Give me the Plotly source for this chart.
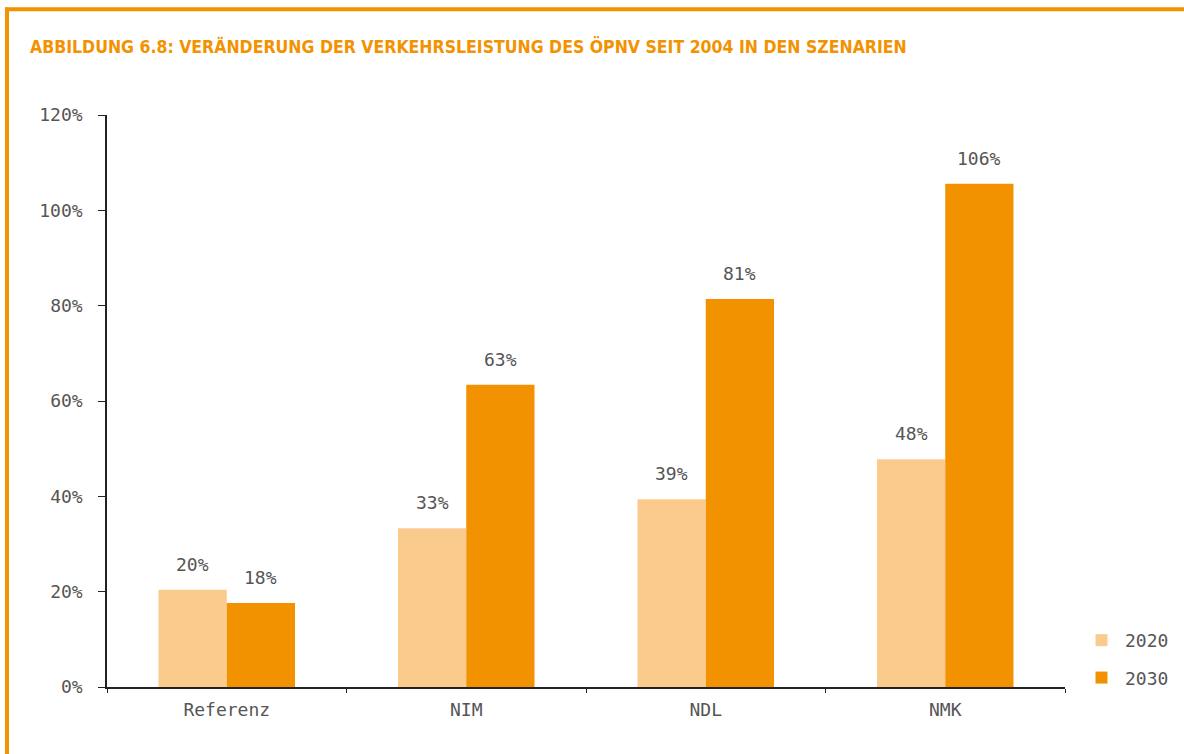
import plotly.graph_objects as go

# Scenario categories and change in public-transport passenger-km since 2004 (%)
szenarien = ["Referenz", "NIM", "NDL", "NMK"]
werte_2020 = [20.4, 33.3, 39.4, 47.8]
werte_2030 = [17.6, 63.4, 81.4, 105.6]
jahre = ["2020", "2030"]
y_ticks = [0, 20, 40, 60, 80, 100, 120]

ORANGE = "#F39200"
HELL = "#FBCB8E"
GRAU = "#555555"
MONO = "DejaVu Sans Mono, Liberation Mono, monospace"

W, H = 1184, 754
L, R, T, B = 107, 119, 115, 67
plot_w = W - L - R
plot_h = H - T - B
bargap = 0.43
bar_px = plot_w / len(szenarien) * (1 - bargap) / 2

fig = go.Figure()
fig.add_trace(go.Bar(name=jahre[0], x=szenarien, y=werte_2020, legendgroup="a",
                     marker=dict(color=HELL, line=dict(width=0))))
fig.add_trace(go.Bar(name=jahre[1], x=szenarien, y=werte_2030, legendgroup="b",
                     marker=dict(color=ORANGE, line=dict(width=0))))

# value labels above each bar
annots = []
for vals, sign in ((werte_2020, -1), (werte_2030, 1)):
    for cat, v in zip(szenarien, vals):
        annots.append(dict(x=cat, y=v, xref="x", yref="y", text=f"{v:.0f}%",
                           showarrow=False, yanchor="bottom", yshift=13,
                           xshift=sign * bar_px / 2,
                           font=dict(family=MONO, size=18, color=GRAU)))

def px_x(p):
    return (p - L) / plot_w

def px_y(p):
    return (H - B - p) / plot_h

annots.append(dict(x=px_x(28), y=px_y(47), xref="paper", yref="paper",
                   xanchor="left", yanchor="middle", showarrow=False,
                   text="<b>ABBILDUNG 6.8: VERÄNDERUNG DER VERKEHRSLEISTUNG DES ÖPNV SEIT 2004 IN DEN SZENARIEN</b>",
                   font=dict(family="DejaVu Sans Condensed, sans-serif",
                             size=17.5, color=ORANGE)))

shapes = [
    dict(type="line", xref="paper", yref="paper", x0=px_x(5), x1=px_x(W + 5),
         y0=px_y(9.3), y1=px_y(9.3), line=dict(color=ORANGE, width=4)),
    dict(type="line", xref="paper", yref="paper", x0=px_x(7), x1=px_x(7),
         y0=px_y(7.5), y1=px_y(H + 5), line=dict(color=ORANGE, width=4)),
]

fig.update_layout(
    width=W, height=H,
    margin=dict(l=L, r=R, t=T, b=B, autoexpand=False),
    paper_bgcolor="white", plot_bgcolor="white",
    barmode="group", bargap=bargap, bargroupgap=0,
    annotations=annots, shapes=shapes,
    legend=dict(x=1 + 13 / plot_w, y=0.049, xanchor="left", yanchor="middle",
                xref="paper", yref="paper",
                font=dict(family=MONO, size=18, color=GRAU),
                tracegroupgap=11, itemwidth=37, traceorder="grouped"),
    xaxis=dict(showline=True, linecolor="#222", linewidth=1.5,
               ticks="outside", ticklen=4, tickcolor="#222",
               tickson="boundaries", showgrid=False, ticklabelstandoff=6,
               tickfont=dict(family=MONO, size=18, color=GRAU)),
    yaxis=dict(range=[0, 120], tickvals=y_ticks,
               ticktext=[f"{v}%" for v in y_ticks],
               showline=True, linecolor="#222", linewidth=1.5,
               ticks="outside", ticklen=7, tickcolor="#222",
               showgrid=False, zeroline=False, ticklabelstandoff=12,
               tickfont=dict(family=MONO, size=18, color=GRAU)),
)

fig.write_html("out.html")
